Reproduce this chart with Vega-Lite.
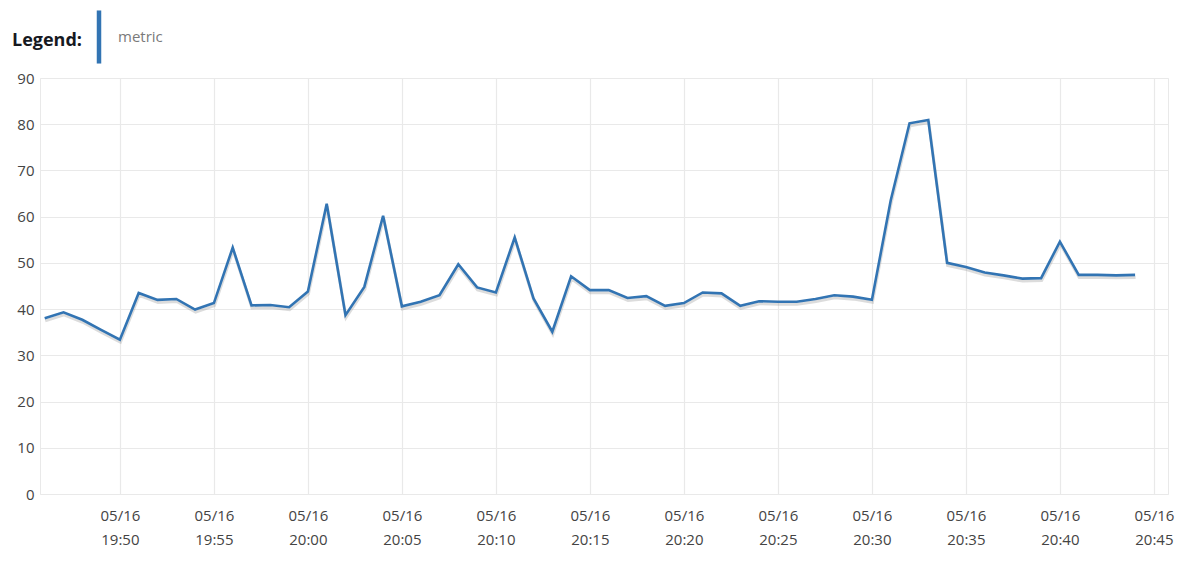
{
  "$schema": "https://vega.github.io/schema/vega-lite/v6.json",
  "width": 1128,
  "height": 416,
  "autosize": {"type": "none"},
  "padding": {"left": 40, "top": 78, "right": 32, "bottom": 84},
  "background": "white",
  "data": {
    "values": [
      {"time": "2024-05-16T19:46:00", "value": 38.0, "series": "metric"},
      {"time": "2024-05-16T19:47:00", "value": 39.3, "series": "metric"},
      {"time": "2024-05-16T19:48:00", "value": 37.7, "series": "metric"},
      {"time": "2024-05-16T19:49:00", "value": 35.5, "series": "metric"},
      {"time": "2024-05-16T19:50:00", "value": 33.4, "series": "metric"},
      {"time": "2024-05-16T19:51:00", "value": 43.5, "series": "metric"},
      {"time": "2024-05-16T19:52:00", "value": 42.0, "series": "metric"},
      {"time": "2024-05-16T19:53:00", "value": 42.2, "series": "metric"},
      {"time": "2024-05-16T19:54:00", "value": 39.9, "series": "metric"},
      {"time": "2024-05-16T19:55:00", "value": 41.3, "series": "metric"},
      {"time": "2024-05-16T19:56:00", "value": 53.3, "series": "metric"},
      {"time": "2024-05-16T19:57:00", "value": 40.8, "series": "metric"},
      {"time": "2024-05-16T19:58:00", "value": 40.9, "series": "metric"},
      {"time": "2024-05-16T19:59:00", "value": 40.4, "series": "metric"},
      {"time": "2024-05-16T20:00:00", "value": 43.8, "series": "metric"},
      {"time": "2024-05-16T20:01:00", "value": 62.8, "series": "metric"},
      {"time": "2024-05-16T20:02:00", "value": 38.7, "series": "metric"},
      {"time": "2024-05-16T20:03:00", "value": 44.8, "series": "metric"},
      {"time": "2024-05-16T20:04:00", "value": 60.2, "series": "metric"},
      {"time": "2024-05-16T20:05:00", "value": 40.6, "series": "metric"},
      {"time": "2024-05-16T20:06:00", "value": 41.6, "series": "metric"},
      {"time": "2024-05-16T20:07:00", "value": 43.0, "series": "metric"},
      {"time": "2024-05-16T20:08:00", "value": 49.7, "series": "metric"},
      {"time": "2024-05-16T20:09:00", "value": 44.7, "series": "metric"},
      {"time": "2024-05-16T20:10:00", "value": 43.6, "series": "metric"},
      {"time": "2024-05-16T20:11:00", "value": 55.5, "series": "metric"},
      {"time": "2024-05-16T20:12:00", "value": 42.3, "series": "metric"},
      {"time": "2024-05-16T20:13:00", "value": 35.1, "series": "metric"},
      {"time": "2024-05-16T20:14:00", "value": 47.1, "series": "metric"},
      {"time": "2024-05-16T20:15:00", "value": 44.1, "series": "metric"},
      {"time": "2024-05-16T20:16:00", "value": 44.1, "series": "metric"},
      {"time": "2024-05-16T20:17:00", "value": 42.4, "series": "metric"},
      {"time": "2024-05-16T20:18:00", "value": 42.8, "series": "metric"},
      {"time": "2024-05-16T20:19:00", "value": 40.7, "series": "metric"},
      {"time": "2024-05-16T20:20:00", "value": 41.3, "series": "metric"},
      {"time": "2024-05-16T20:21:00", "value": 43.6, "series": "metric"},
      {"time": "2024-05-16T20:22:00", "value": 43.4, "series": "metric"},
      {"time": "2024-05-16T20:23:00", "value": 40.7, "series": "metric"},
      {"time": "2024-05-16T20:24:00", "value": 41.7, "series": "metric"},
      {"time": "2024-05-16T20:25:00", "value": 41.6, "series": "metric"},
      {"time": "2024-05-16T20:26:00", "value": 41.6, "series": "metric"},
      {"time": "2024-05-16T20:27:00", "value": 42.2, "series": "metric"},
      {"time": "2024-05-16T20:28:00", "value": 43.0, "series": "metric"},
      {"time": "2024-05-16T20:29:00", "value": 42.7, "series": "metric"},
      {"time": "2024-05-16T20:30:00", "value": 42.0, "series": "metric"},
      {"time": "2024-05-16T20:31:00", "value": 63.5, "series": "metric"},
      {"time": "2024-05-16T20:32:00", "value": 80.2, "series": "metric"},
      {"time": "2024-05-16T20:33:00", "value": 80.9, "series": "metric"},
      {"time": "2024-05-16T20:34:00", "value": 50.0, "series": "metric"},
      {"time": "2024-05-16T20:35:00", "value": 49.1, "series": "metric"},
      {"time": "2024-05-16T20:36:00", "value": 47.9, "series": "metric"},
      {"time": "2024-05-16T20:37:00", "value": 47.3, "series": "metric"},
      {"time": "2024-05-16T20:38:00", "value": 46.6, "series": "metric"},
      {"time": "2024-05-16T20:39:00", "value": 46.7, "series": "metric"},
      {"time": "2024-05-16T20:40:00", "value": 54.6, "series": "metric"},
      {"time": "2024-05-16T20:41:00", "value": 47.4, "series": "metric"},
      {"time": "2024-05-16T20:42:00", "value": 47.4, "series": "metric"},
      {"time": "2024-05-16T20:43:00", "value": 47.3, "series": "metric"},
      {"time": "2024-05-16T20:44:00", "value": 47.4, "series": "metric"}
    ]
  },
  "encoding": {
    "x": {
      "field": "time",
      "type": "temporal",
      "scale": {
        "domain": [
          {"year": 2024, "month": 5, "date": 16, "hours": 19, "minutes": 45, "seconds": 45},
          {"year": 2024, "month": 5, "date": 16, "hours": 20, "minutes": 45, "seconds": 45}
        ]
      },
      "axis": {
        "title": null,
        "values": [
          {"year": 2024, "month": 5, "date": 16, "hours": 19, "minutes": 50},
          {"year": 2024, "month": 5, "date": 16, "hours": 19, "minutes": 55},
          {"year": 2024, "month": 5, "date": 16, "hours": 20, "minutes": 0},
          {"year": 2024, "month": 5, "date": 16, "hours": 20, "minutes": 5},
          {"year": 2024, "month": 5, "date": 16, "hours": 20, "minutes": 10},
          {"year": 2024, "month": 5, "date": 16, "hours": 20, "minutes": 15},
          {"year": 2024, "month": 5, "date": 16, "hours": 20, "minutes": 20},
          {"year": 2024, "month": 5, "date": 16, "hours": 20, "minutes": 25},
          {"year": 2024, "month": 5, "date": 16, "hours": 20, "minutes": 30},
          {"year": 2024, "month": 5, "date": 16, "hours": 20, "minutes": 35},
          {"year": 2024, "month": 5, "date": 16, "hours": 20, "minutes": 40},
          {"year": 2024, "month": 5, "date": 16, "hours": 20, "minutes": 45}
        ],
        "labelExpr": "[timeFormat(datum.value, '%m/%d'), timeFormat(datum.value, '%H:%M')]",
        "labelLineHeight": 24,
        "labelPadding": 14,
        "labelFlush": false,
        "labelOverlap": false
      }
    },
    "y": {
      "field": "value",
      "type": "quantitative",
      "scale": {"domain": [0, 90]},
      "axis": {"title": null, "values": [0, 10, 20, 30, 40, 50, 60, 70, 80, 90], "labelPadding": 6}
    }
  },
  "layer": [
    {
      "mark": {"type": "line", "color": "#9a9a9a", "opacity": 0.35, "strokeWidth": 3, "yOffset": 2.5, "xOffset": 0.5}
    },
    {
      "mark": {"type": "line", "strokeWidth": 2.6, "strokeJoin": "miter"},
      "encoding": {
        "color": {
          "field": "series",
          "type": "nominal",
          "scale": {"range": ["#3274b3"]},
          "legend": {
            "title": "Legend:",
            "orient": "none",
            "legendX": -28,
            "legendY": -50,
            "direction": "horizontal",
            "titleOrient": "left",
            "titleBaseline": "bottom",
            "titleFontSize": 18,
            "titleFontWeight": "bold",
            "titleColor": "#16191f",
            "titlePadding": 8,
            "symbolType": "M0,-4V4",
            "symbolSize": 176,
            "symbolStrokeWidth": 4.5,
            "labelOffset": 10,
            "labelFontSize": 15,
            "labelColor": "#7a7a7a",
            "padding": 0
          }
        }
      }
    }
  ],
  "config": {
    "font": "Open Sans",
    "view": {"stroke": "#e9e9e9", "strokeWidth": 1},
    "axis": {
      "grid": true,
      "gridColor": "#e9e9e9",
      "gridWidth": 1.2,
      "domain": false,
      "ticks": false,
      "labelFontSize": 15,
      "labelColor": "#444444"
    }
  }
}
